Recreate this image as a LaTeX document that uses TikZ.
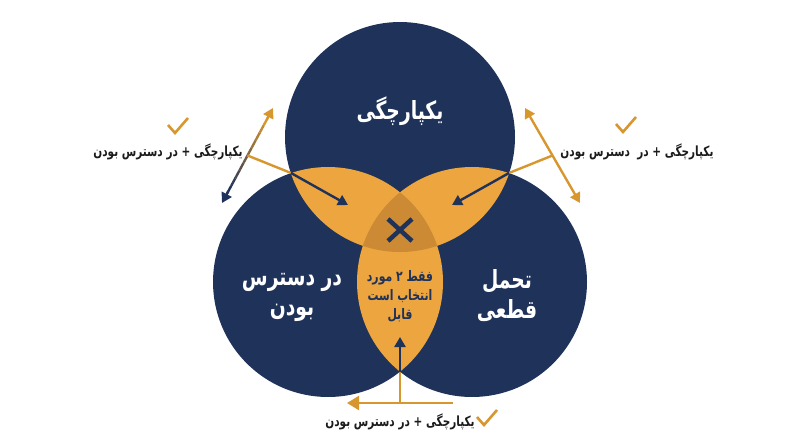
\documentclass[tikz,border=0pt]{standalone}
\usepackage{fontspec}
\usetikzlibrary{arrows.meta,calc}
\newfontfamily\arabicfont[Script=Arabic, FakeStretch=0.75]{DejaVu Sans}
\TeXXeTstate=1
\definecolor{navy}{HTML}{1F325A}
\definecolor{gold}{HTML}{ECA53F}
\definecolor{deepgold}{HTML}{CB8A33}
\definecolor{arrowgold}{HTML}{D8962F}
\definecolor{ink}{HTML}{1B1B1B}
\tikzset{
  big/.style={text=white, font=\arabicfont\bfseries\fontsize{25}{30}\selectfont, align=center},
  mid/.style={text=navy, font=\arabicfont\bfseries\fontsize{14.5}{19}\selectfont, align=center},
  side/.style={text=ink, font=\arabicfont\bfseries\fontsize{14}{16}\selectfont},
  goldline/.style={draw=arrowgold, line width=2.4pt},
  navyline/.style={draw=navy, line width=2.4pt},
  tip/.style={-{Triangle[width=11pt,length=10pt]}},
  tickmark/.pic={\draw[arrowgold, line width=2.6pt] (-10,-2) -- (-3,6) -- (10,-9);}
}
\begin{document}
\begin{tikzpicture}[x=1pt,y=-1pt]
      \useasboundingbox (0,0) rectangle (800,447);
      % circle centres
      \coordinate (0) at (400,137);
      \coordinate (1) at (328,282);
      \coordinate (2) at (472,282);
      \fill[navy] (0) circle (115pt) (1) circle (115pt) (2) circle (115pt);
      \begin{scope}
        \clip (0) circle (115pt);
        \fill[gold] (1) circle (115pt) (2) circle (115pt);
      \end{scope}
      \begin{scope}
        \clip (1) circle (115pt);
        \fill[gold] (2) circle (115pt);
      \end{scope}
      \begin{scope}
        \clip (0) circle (115pt);
        \clip (1) circle (115pt);
        \fill[deepgold] (2) circle (115pt);
      \end{scope}
      % labels
      \node[big] (t0) at (400,111) {\beginR یکپارچگی\endR};
      \node[big] (t1) at (292,297) {\beginR در دسترس\endR\\\beginR بودن\endR};
      \node[big] (t2) at (507,296) {\beginR تحمل\endR\\\beginR قطعی\endR};
      \node[mid] (t3) at (400,296) {\beginR فقط ۲ مورد\endR\\\beginR انتخاب است\endR\\\beginR قابل\endR};
      \draw[navy, line width=4.5pt] (388,219) -- (412,241) (412,219) -- (388,241);
      % left pointer
      \coordinate (la) at (222,203);
      \coordinate (lb) at (273,108);
      \coordinate (lm) at ($(la)!0.5!(lb)$);
      \coordinate (lx) at (291,173);
      \coordinate (lt) at (348,205);
      \foreach \i [evaluate=\i as \p using 100*\i/9] in {0,...,9}
        \draw[line width=2.4pt, arrowgold!\p!navy] ($(la)!0.1+0.08*\i!(lb)$) -- ($(la)!0.18+0.08*\i!(lb)$);
      \draw[navyline, tip] ($(la)!0.12!(lb)$) -- (la);
      \draw[goldline, tip] ($(la)!0.88!(lb)$) -- (lb);
      \draw[goldline] (lm) -- (lx);
      \draw[navyline, tip] (lx) -- (lt);
      \node[side] (ls) at (168,152) {\beginR یکپارچگی + در دسترس بودن\endR};
      \pic at (178,127) {tickmark};
      % right pointer
      \coordinate (ra) at (580,203);
      \coordinate (rb) at (525,108);
      \coordinate (rm) at ($(ra)!0.5!(rb)$);
      \coordinate (rx) at (509,173);
      \coordinate (rt) at (452,205);
      \draw[goldline, {Triangle[width=11pt,length=10pt]}-{Triangle[width=11pt,length=10pt]}] (ra) -- (rb);
      \draw[goldline] (rm) -- (rx);
      \draw[navyline, tip] (rx) -- (rt);
      \node[side] (rs) at (637,152) {\beginR یکپارچگی + در\ \ دسترس بودن\endR};
      \pic at (626,126) {tickmark};
      % bottom pointer
      \coordinate (bc) at (400,403);
      \coordinate (bx) at (400,372);
      \coordinate (bt) at (400,337);
      \coordinate (be) at (453,403);
      \coordinate (bl) at (347,403);
      \draw[goldline] (bc) -- (bx);
      \draw[navyline, tip] (bx) -- (bt);
      \draw[goldline, -{Triangle[width=14pt,length=12pt]}] (be) -- (bl);
      \node[side] (bs) at (400,422) {\beginR یکپارچگی + در دسترس بودن\endR};
      \pic at (487,419) {tickmark};
    \end{tikzpicture}
\end{document}
